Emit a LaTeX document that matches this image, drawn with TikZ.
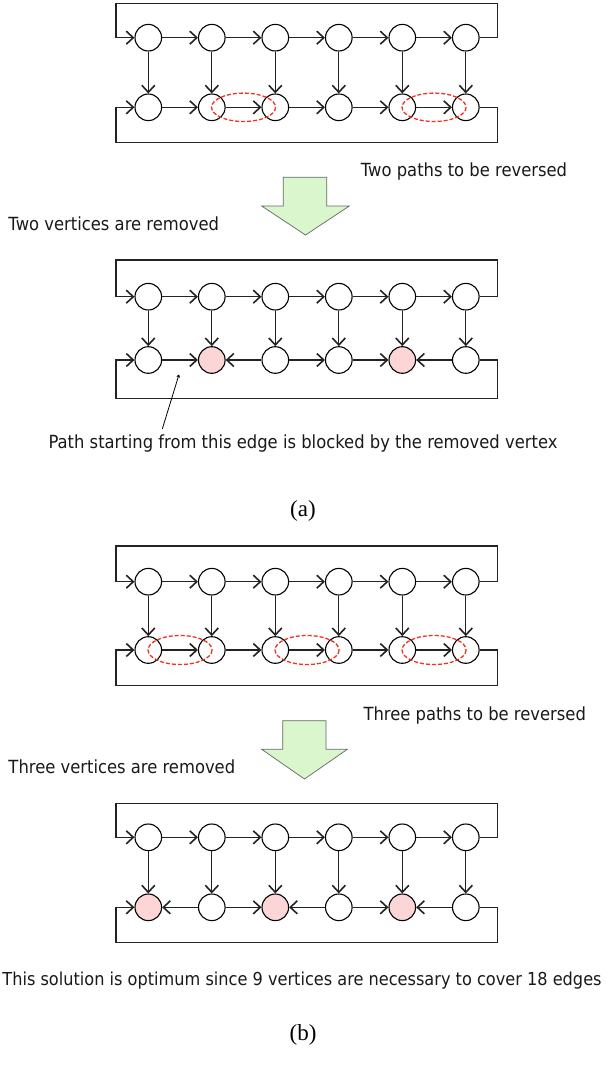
\documentclass[tikz,border=0pt]{standalone}
\usepackage{fontspec}
\setmainfont{Liberation Serif}
\newfontfamily\lab{DejaVu Sans}[FakeStretch=0.905]
\usetikzlibrary{arrows.meta}
\definecolor{pinkv}{RGB}{252,214,214}
\definecolor{dashred}{RGB}{240,50,30}
\definecolor{arrowgreen}{RGB}{217,246,204}
\definecolor{edgegray}{RGB}{35,35,35}
\tikzset{
  vtx/.style={circle,draw=black,line width=1.1pt,minimum size=26.6pt,inner sep=0pt,fill=white},
  rem/.style={vtx,fill=pinkv},
  edge/.style={draw=edgegray,line width=1.1pt,-{Straight Barb[length=7pt,width=13pt,line width=1.6pt]}},
  cover/.style={draw=dashred,dash pattern=on 4pt off 2pt,line width=1.3pt},
  lbl/.style={font=\lab\fontsize{18.1}{20}\selectfont,inner sep=0pt,anchor=west,text=black!90},
  caplbl/.style={font=\fontsize{23}{26}\selectfont,inner sep=0pt},
  bigarrow/.style={draw=black!60,fill=arrowgreen,line width=0.7pt},
  pointer/.style={draw=black,line width=0.8pt,-{Straight Barb[length=2pt,width=3pt]}}
}
\newcommand\drawgraph[6]{%
  \foreach \i in {1,...,6}{\node[vtx] (#1t\i) at ({148.3+63.5*(\i-1)},#3) {};}
  \foreach \i/\s in {#6}{\node[\s] (#1b\i) at ({148.3+63.5*(\i-1)},#4) {};}
  \foreach \i [evaluate=\i as \j using int(\i+1)] in {1,...,5}{\draw[edge] (#1t\i) -- (#1t\j);}
  \foreach \i in {1,...,6}{\draw[edge] (#1t\i) -- (#1b\i);}
  \coordinate (#1ftr) at (497.3,#2);
  \coordinate (#1ftl) at (116,#3);
  \coordinate (#1fbr) at (497.3,#5);
  \coordinate (#1fbl) at (116,#4);
  \draw[edge] (#1t6.east) -| (#1ftr) -| (#1ftl) -- (#1t1.west);
  \draw[edge] (#1b6.east) -| (#1fbr) -| (#1fbl) -- (#1b1.west);
}
\begin{document}
\begin{tikzpicture}[x=1pt,y=-1pt]
\useasboundingbox (0,0) rectangle (605,1070);
% ---------- graph A ----------
\drawgraph{A}{3.3}{37.7}{107.3}{142.7}{1/vtx,2/vtx,3/vtx,4/vtx,5/vtx,6/vtx}
\draw[edge] (Ab1) -- (Ab2);
\draw[edge] (Ab2) -- (Ab3);
\draw[edge] (Ab3) -- (Ab4);
\draw[edge] (Ab4) -- (Ab5);
\draw[edge] (Ab5) -- (Ab6);
\path (Ab2) -- (Ab3) coordinate[midway] (Ae1);
\path (Ab5) -- (Ab6) coordinate[midway] (Ae2);
\draw[cover] (Ae1) ellipse [x radius=32, y radius=14.2];
\draw[cover] (Ae2) ellipse [x radius=32, y radius=14.2];
\node[lbl] (l1) at (360.7,171.7) {Two paths to be reversed};
\draw[bigarrow] (283.3,177.3) -- (326.7,177.3) -- (326.7,206) -- (349.3,206) -- (305.5,235) -- (261.7,206) -- (283.3,206) -- cycle;
\node[lbl] (l2) at (8.3,223.3) {Two vertices are removed};
% ---------- graph B ----------
\drawgraph{B}{260}{296.7}{360}{398.3}{1/vtx,2/rem,3/vtx,4/vtx,5/rem,6/vtx}
\draw[edge] (Bb1) -- (Bb2);
\draw[edge] (Bb3) -- (Bb2);
\draw[edge] (Bb3) -- (Bb4);
\draw[edge] (Bb4) -- (Bb5);
\draw[edge] (Bb6) -- (Bb5);
\node[lbl,anchor=center] (l3) at (303,444) {Path starting from this edge is blocked by the removed vertex};
\coordinate (Bq) at (162.3,429);
\coordinate (Bp) at (179,374.5);
\draw[pointer] (Bq) -- (Bp);
\node[caplbl] (capa) at (303,511) {(a)};
% ---------- graph C ----------
\drawgraph{C}{546}{581.7}{650}{685.7}{1/vtx,2/vtx,3/vtx,4/vtx,5/vtx,6/vtx}
\draw[edge] (Cb1) -- (Cb2);
\draw[edge] (Cb2) -- (Cb3);
\draw[edge] (Cb3) -- (Cb4);
\draw[edge] (Cb4) -- (Cb5);
\draw[edge] (Cb5) -- (Cb6);
\path (Cb1) -- (Cb2) coordinate[midway] (Ce1);
\path (Cb3) -- (Cb4) coordinate[midway] (Ce2);
\path (Cb5) -- (Cb6) coordinate[midway] (Ce3);
\draw[cover] (Ce1) ellipse [x radius=32, y radius=14.5];
\draw[cover] (Ce2) ellipse [x radius=32, y radius=14.5];
\draw[cover] (Ce3) ellipse [x radius=32, y radius=14.5];
\node[lbl] (l4) at (363.3,715) {Three paths to be reversed};
\draw[bigarrow] (282.7,720.7) -- (326,720.7) -- (326,749.3) -- (347.3,749.3) -- (304.5,779) -- (261.7,749.3) -- (282.7,749.3) -- cycle;
\node[lbl] (l5) at (8.3,766.7) {Three vertices are removed};
% ---------- graph D ----------
\drawgraph{D}{803.3}{837.3}{907.3}{942.7}{1/rem,2/vtx,3/rem,4/vtx,5/rem,6/vtx}
\draw[edge] (Db2) -- (Db1);
\draw[edge] (Db2) -- (Db3);
\draw[edge] (Db4) -- (Db3);
\draw[edge] (Db4) -- (Db5);
\draw[edge] (Db6) -- (Db5);
\node[lbl,anchor=center,font=\lab\fontsize{17.85}{20}\selectfont] (l6) at (302,981) {This solution is optimum since 9 vertices are necessary to cover 18 edges};
\node[caplbl] (capb) at (303,1035) {(b)};
\end{tikzpicture}
\end{document}
